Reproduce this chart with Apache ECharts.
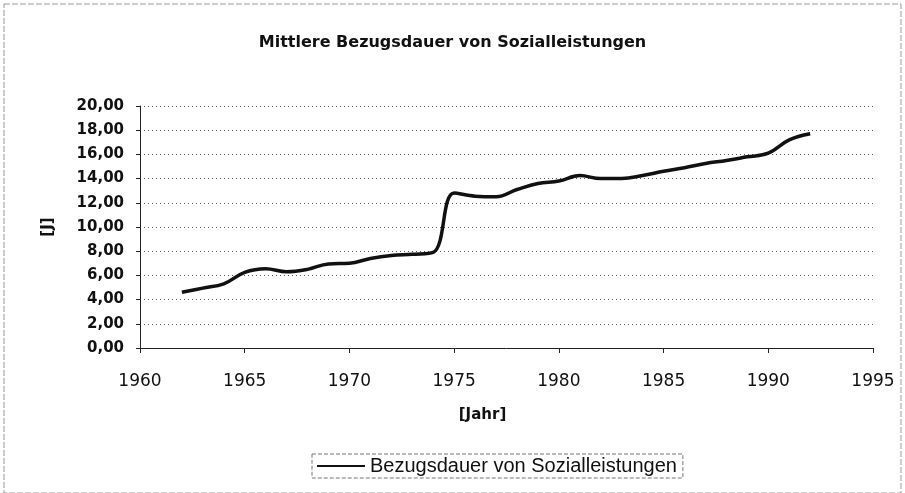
<!DOCTYPE html>
<html>
<head>
<meta charset="utf-8">
<title>Mittlere Bezugsdauer von Sozialleistungen</title>
<script src="https://cdn.jsdelivr.net/npm/echarts@6/dist/echarts.min.js"></script>
<style>
  html, body { margin: 0; padding: 0; background: #fff; }
  #chart { width: 905px; height: 493px; }
</style>
</head>
<body>
<div id="chart"></div>
<script>
// Jahre und mittlere Bezugsdauer
const years = [1962, 1963, 1964, 1965, 1966, 1967, 1968, 1969, 1970, 1971,
  1972, 1973, 1974, 1975, 1976, 1977, 1978, 1979, 1980, 1981,
  1982, 1983, 1984, 1985, 1986, 1987, 1988, 1989, 1990, 1991, 1992];
const dauer = [4.6, 4.95, 5.3, 6.25, 6.55, 6.3, 6.5, 6.95, 7.0, 7.4,
  7.65, 7.75, 7.9, 12.8, 12.55, 12.5, 13.1, 13.6, 13.8, 14.25,
  14.0, 14.0, 14.25, 14.6, 14.9, 15.25, 15.5, 15.8, 16.1, 17.2, 17.7];
const seriesName = "Bezugsdauer von Sozialleistungen";

const chart = echarts.init(document.getElementById("chart"));
const fontFam = "DejaVu Sans, Liberation Sans, sans-serif";
const arial = "Liberation Sans, Arial, sans-serif";

let option = {
  animation: false,
  backgroundColor: "#fff",
  title: {
    text: "Mittlere Bezugsdauer von Sozialleistungen",
    left: "center",
    top: 30,
    textStyle: { fontFamily: fontFam, fontSize: 16, fontWeight: "bold", color: "#111" }
  },
  grid: { left: 140, right: 32, top: 106, bottom: 145 },
  xAxis: {
    type: "value",
    min: 1960,
    max: 1995,
    interval: 5,
    name: "[Jahr]",
    nameLocation: "middle",
    nameGap: 60,
    nameTextStyle: {
      fontFamily: fontFam, fontSize: 15, fontWeight: "bold", color: "#111",
      padding: [0, 48, 0, 0]
    },
    axisLine: { show: true, lineStyle: { color: "#222", width: 1 } },
    axisTick: { show: true, length: 5, lineStyle: { color: "#222" } },
    axisLabel: {
      fontFamily: fontFam, fontSize: 17, color: "#111", margin: 25,
      formatter: v => String(v)
    },
    splitLine: { show: false }
  },
  yAxis: {
    type: "value",
    min: 0,
    max: 20,
    interval: 2,
    name: "[J]",
    nameLocation: "middle",
    nameRotate: 90,
    nameGap: 84,
    nameTextStyle: { fontFamily: fontFam, fontSize: 15, fontWeight: "bold", color: "#111" },
    axisLine: { show: true, lineStyle: { color: "#222", width: 1 } },
    axisTick: { show: true, length: 4, lineStyle: { color: "#222" } },
    axisLabel: {
      fontFamily: fontFam, fontSize: 15, fontWeight: "bold", color: "#111", margin: 16,
      formatter: v => v.toFixed(2).replace(".", ",")
    },
    splitLine: { show: true, lineStyle: { color: "#555", type: [1, 3], width: 1 } }
  },
  legend: {
    data: [seriesName],
    bottom: 15,
    left: 312,
    icon: "rect",
    itemWidth: 48,
    itemHeight: 2,
    itemGap: 4,
    padding: [2, 6, 2, 5],
    borderColor: "#777",
    borderWidth: 1,
    borderType: "dashed",
    borderRadius: 0,
    textStyle: { fontFamily: arial, fontSize: 20, color: "#111" }
  },
  graphic: [{
    type: "rect",
    shape: { x: 4, y: 4, width: 897, height: 489 },
    style: { fill: "none", stroke: "#999", lineWidth: 1, lineDash: [6, 2] },
    silent: true
  }],
  series: [{
    name: seriesName,
    type: "line",
    data: years.map((y, i) => [y, dauer[i]]),
    smooth: 0.4,
    showSymbol: false,
    lineStyle: { color: "#111", width: 3.5 },
    itemStyle: { color: "#111" }
  }]
};
chart.setOption(option);
</script>
</body>
</html>
